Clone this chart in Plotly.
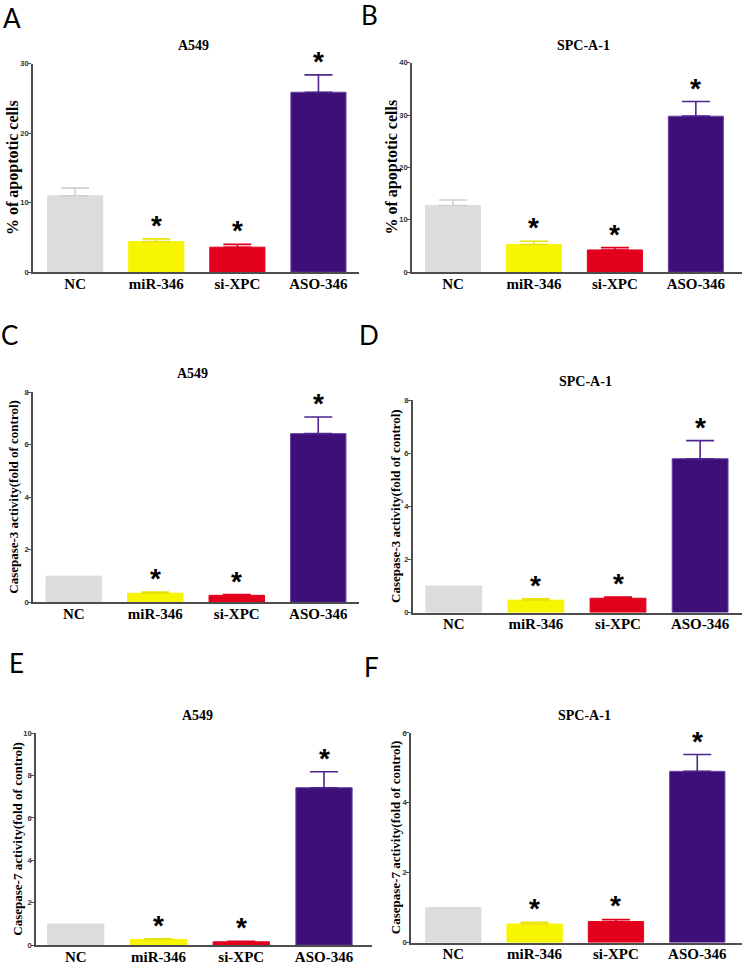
import plotly.graph_objects as go

# ---------------- data ----------------
categories = ["NC", "miR-346", "si-XPC", "ASO-346"]
significant = [False, True, True, True]

apoptosis_a549 = [11.0, 4.4, 3.6, 25.9]
apoptosis_a549_err = [1.1, 0.4, 0.4, 2.5]
apoptosis_spc = [12.75, 5.3, 4.25, 29.8]
apoptosis_spc_err = [1.05, 0.6, 0.45, 2.8]
casp3_a549 = [1.0, 0.35, 0.27, 6.42]
casp3_a549_err = [0.0, 0.04, 0.03, 0.63]
casp3_spc = [1.0, 0.47, 0.54, 5.8]
casp3_spc_err = [0.0, 0.05, 0.05, 0.68]
casp7_a549 = [1.0, 0.27, 0.16, 7.43]
casp7_a549_err = [0.0, 0.03, 0.02, 0.75]
casp7_spc = [1.0, 0.53, 0.6, 4.9]
casp7_spc_err = [0.0, 0.05, 0.06, 0.48]

panel_values = [apoptosis_a549, apoptosis_spc, casp3_a549, casp3_spc, casp7_a549, casp7_spc]
panel_errors = [apoptosis_a549_err, apoptosis_spc_err, casp3_a549_err, casp3_spc_err,
                casp7_a549_err, casp7_spc_err]
y_max = [30, 40, 8, 8, 10, 6]
y_dtick = [10, 10, 2, 2, 2, 2]
cell_titles = ["A549", "SPC-A-1", "A549", "SPC-A-1", "A549", "SPC-A-1"]
panel_letters = ["A", "B", "C", "D", "E", "F"]
y_titles = ["% of apoptotic cells", "% of apoptotic cells",
            "Casepase-3 activity(fold of control)", "Casepase-3 activity(fold of control)",
            "Casepase-7 activity(fold of control)", "Casepase-7 activity(fold of control)"]

# ---------------- styling / layout ----------------
W, H = 743, 972
bar_colors = ["#dcdcdc", "#f7f500", "#e2001d", "#3e0f78"]
bar_lines = ["#dcdcdc", "#f7f500", "#e2001d", "#6a44a8"]
err_colors = ["#cfcfcf", "#e9e30a", "#e2001d", "#4f2590"]

# pixel geometry of each panel: x0, x1, y_top, y_zero, x range
geom = [
    (33, 359, 60.3, 270.7, [-0.52, 3.5]),
    (412, 742, 59.3, 270.7, [-0.506, 3.57]),
    (33, 359, 391.7, 604, [-0.5, 3.5]),
    (412.7, 742, 400, 614.3, [-0.5, 3.51]),
    (36, 372, 736, 950, [-0.48, 3.58]),
    (411, 742, 735.7, 947.3, [-0.52, 3.55]),
]
title_pos = [(193, 42), (583, 42), (192, 373), (585, 381), (197, 718), (584, 718)]
ytitle_x = [13, 392, 13.5, 395.5, 17.5, 395.5]
ytitle_size = [16, 16, 13, 13, 13, 13]
letter_pos = [(12, 14), (369, 11), (9, 334), (369, 334), (16, 665), (372, 669)]

serif = "Liberation Serif, Times New Roman, serif"
sans = "Liberation Sans, Arial, sans-serif"

fig = go.Figure()
annotations = []
layout_axes = {}

for i in range(6):
    x0, x1, ytop, yzero, xr = geom[i]
    n = "" if i == 0 else str(i + 1)
    xa, ya = "x" + n, "y" + n
    vals = panel_values[i]
    errs = panel_errors[i]
    for j, cat in enumerate(categories):
        fig.add_trace(go.Bar(
            x=[cat], y=[vals[j]], xaxis=xa, yaxis=ya, width=0.68,
            marker=dict(color=bar_colors[j], line=dict(color=bar_lines[j], width=1)),
            error_y=dict(type="data", array=[errs[j]], arrayminus=[0], symmetric=False,
                         visible=errs[j] > 0, color=err_colors[j], thickness=1.6, width=14),
            showlegend=False, hoverinfo="skip",
        ))
        if significant[j]:
            annotations.append(dict(
                x=cat, y=vals[j] + errs[j], xref=xa, yref=ya, text="*", showarrow=False,
                yanchor="bottom", yshift=-4,
                font=dict(family=sans, size=28, color="black", weight="bold"),
            ))
    layout_axes["xaxis" + n] = dict(
        domain=[x0 / W, x1 / W], range=xr, anchor=ya, type="category",
        categoryorder="array", categoryarray=categories,
        showline=True, linecolor="#4d4d4d", linewidth=1.6, ticks="", showgrid=False,
        zeroline=False, tickfont=dict(family=serif, size=15, color="black", weight="bold"),
        ticklabelstandoff=-3, fixedrange=True,
    )
    layout_axes["yaxis" + n] = dict(
        domain=[1 - yzero / H, 1 - ytop / H], range=[0, y_max[i]], anchor=xa,
        showline=True, linecolor="#4d4d4d", linewidth=1.6, ticks="outside", ticklen=3,
        tickwidth=1.2, tickcolor="#4d4d4d", dtick=y_dtick[i], tick0=0, showgrid=False,
        zeroline=False, tickfont=dict(family=sans, size=7.5, color="#333333", weight="bold"),
        ticklabelstandoff=-2, fixedrange=True,
    )
    # cell-line title
    annotations.append(dict(
        x=title_pos[i][0] / W, y=1 - title_pos[i][1] / H, xref="paper", yref="paper",
        text=cell_titles[i], showarrow=False, xanchor="center", yanchor="middle",
        font=dict(family=serif, size=14, color="black", weight="bold"),
    ))
    # y title
    annotations.append(dict(
        x=ytitle_x[i] / W, y=1 - (ytop + yzero) / 2 / H, xref="paper", yref="paper",
        text=y_titles[i], showarrow=False, textangle=-90, xanchor="center", yanchor="middle",
        font=dict(family=serif, size=ytitle_size[i], color="black", weight="bold"),
    ))
    # panel letter
    annotations.append(dict(
        x=letter_pos[i][0] / W, y=1 - letter_pos[i][1] / H, xref="paper", yref="paper",
        text=panel_letters[i], showarrow=False, xanchor="center", yanchor="middle",
        font=dict(family="Lato, Open Sans, sans-serif", size=26, color="black"),
    ))

fig.update_layout(
    width=W, height=H, margin=dict(l=0, r=0, t=0, b=0),
    paper_bgcolor="white", plot_bgcolor="white",
    annotations=annotations, showlegend=False, barmode="overlay",
    **layout_axes,
)

fig.write_html(
    "out.html",
    config={"displayModeBar": False},
    post_script="document.body.style.margin='0';document.body.style.overflow='hidden';",
)
